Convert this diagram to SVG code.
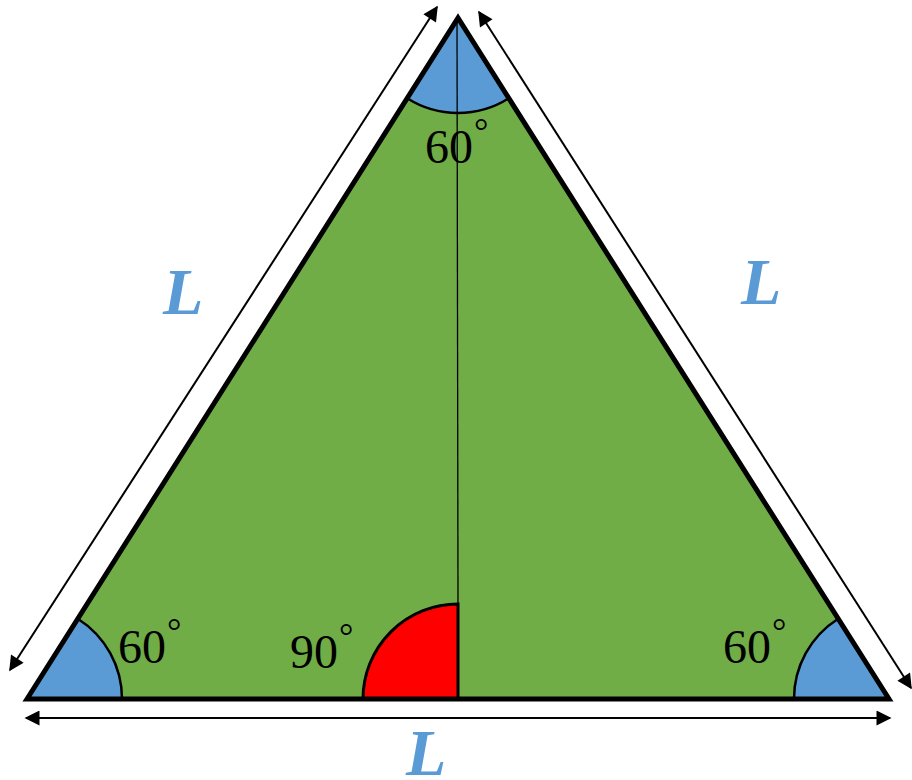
<svg xmlns="http://www.w3.org/2000/svg" width="912" height="780" viewBox="0 0 912 780">
<style>
.ang{font-family:"Liberation Serif",serif;font-size:48px;fill:#000}
.deg{font-size:36px}
.len{font-family:"Liberation Serif",serif;font-size:66px;font-weight:bold;font-style:italic;fill:#5B9BD5}
.sec{fill:#5B9BD5;stroke:#000;stroke-width:2.5}
.arr{stroke:#000;stroke-width:2;fill:none;marker-start:url(#ah);marker-end:url(#ah)}
</style>
<defs>
<marker id="ah" viewBox="0 0 10 10" refX="9" refY="5" markerWidth="17" markerHeight="15" markerUnits="userSpaceOnUse" orient="auto-start-reverse">
<path d="M0,0 L10,5 L0,10 Z" fill="#000"/>
</marker>
</defs>
<g id="triangle">
<polygon points="27,699 458,18 889,699" fill="#70AD47"/>
</g>
<g id="angle-top">
<path class="sec" d="M458,18 L407.2,98.3 A95,95 0 0 0 508.8,98.3 Z"/>
</g>
<g id="angle-left">
<path class="sec" d="M27,699 L122,699 A95,95 0 0 0 77.8,618.7 Z"/>
</g>
<g id="angle-right">
<path class="sec" d="M889,699 L794,699 A95,95 0 0 1 838.2,618.7 Z"/>
</g>
<g id="angle-right-90">
<path d="M458,699 L363,699 A95,95 0 0 1 458,604 Z" fill="#FF0000" stroke="#000" stroke-width="3"/>
</g>
<g id="height">
<line x1="457" y1="18" x2="458" y2="604" stroke="#000" stroke-width="1.3"/>
</g>
<g id="triangle-outline">
<polygon points="27,699 458,18 889,699" fill="none" stroke="#000" stroke-width="5"/>
</g>
<g id="connectors">
<line class="arr" x1="10" y1="670" x2="437" y2="7"/>
<line class="arr" x1="479" y1="12" x2="911" y2="688"/>
<line class="arr" x1="26" y1="718" x2="890" y2="718"/>
</g>
<g id="labels">
<text class="ang" x="425" y="163">60<tspan class="deg" dx="1" dy="-20">°</tspan></text>
<text class="ang" x="118" y="663">60<tspan class="deg" dx="1" dy="-20">°</tspan></text>
<text class="ang" x="290" y="668">90<tspan class="deg" dx="1" dy="-20">°</tspan></text>
<text class="ang" x="723" y="663">60<tspan class="deg" dx="1" dy="-20">°</tspan></text>
<text class="len" x="163" y="314">L</text>
<text class="len" x="741" y="304">L</text>
<text class="len" x="406" y="775">L</text>
</g>
</svg>
